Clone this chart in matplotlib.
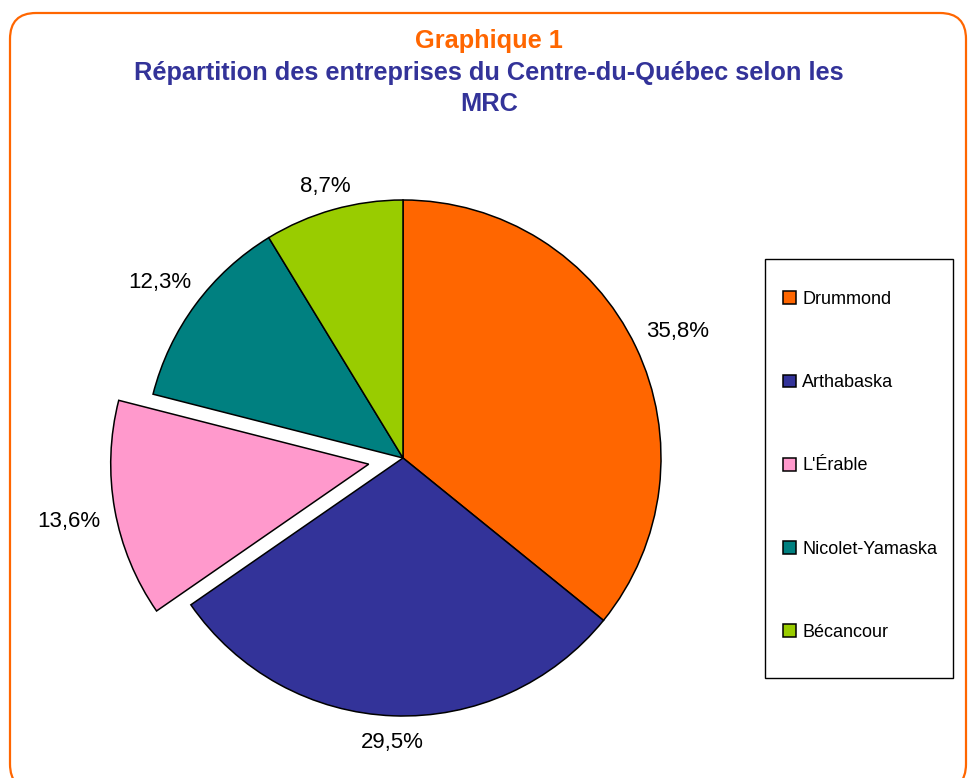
import matplotlib
matplotlib.use('Agg')
import matplotlib.pyplot as plt
from matplotlib.patches import FancyBboxPatch, Rectangle
import numpy as np

plt.rcParams['font.family'] = ['Liberation Sans', 'DejaVu Sans']

categories = ['Drummond', 'Arthabaska', "L'Érable", 'Nicolet-Yamaska', 'Bécancour']
shares = [35.8, 29.5, 13.6, 12.3, 8.7]
explode_flags = [0, 0, 1, 0, 0]
colors = ['#FF6600', '#333399', '#FF99CC', '#008080', '#99CC00']
title_1 = 'Graphique 1'
title_2 = 'Répartition des entreprises du Centre-du-Québec selon les'
title_3 = 'MRC'

W, H = 968, 778
fig = plt.figure(figsize=(W / 100, H / 100), dpi=100)
fig.patch.set_facecolor('white')

# background axes in pixel coordinates
bg = fig.add_axes([0, 0, 1, 1])
bg.set_xlim(0, W)
bg.set_ylim(H, 0)
bg.axis('off')

frame = FancyBboxPatch((10, 13), 956, 777, boxstyle='round,pad=0,rounding_size=26',
                       facecolor='white', edgecolor='#FF6600', linewidth=1.6)
bg.add_patch(frame)

bg.text(489, 41, title_1, ha='center', va='center', fontsize=18.3, fontweight='bold',
        color='#FF6600')
bg.text(489, 73, title_2, ha='center', va='center', fontsize=18.3, fontweight='bold',
        color='#333399')
bg.text(489, 104, title_3, ha='center', va='center', fontsize=18.3, fontweight='bold',
        color='#333399')

bg.add_patch(Rectangle((765, 259), 188, 419, facecolor='white', edgecolor='black',
                       linewidth=1.0))

# pie axes: center (403, 458) px, radius 258 px
R = 258
cx, cy = 403, 458
half = 1.25 * R
ax = fig.add_axes([(cx - half) / W, (H - cy - half) / H, 2 * half / W, 2 * half / H])
wedges, _ = ax.pie(shares, colors=colors, explode=[0.135 * f for f in explode_flags],
                   startangle=90, counterclock=False,
                   wedgeprops=dict(edgecolor='black', linewidth=1.1))
ax.set_xlim(-1.25, 1.25)
ax.set_ylim(-1.25, 1.25)
ax.set_aspect('equal')

labels = [f"{v:.1f}".replace('.', ',') + '%' for v in shares]
texts = []
for w, lab in zip(wedges, labels):
    t = ax.text(0, 0, lab, ha='center', va='center', fontsize=16, color='black')
    texts.append(t)

fig.canvas.draw()
renderer = fig.canvas.get_renderer()
gap = 14
for w, t in zip(wedges, texts):
    mid = np.deg2rad((w.theta1 + w.theta2) / 2)
    c, s = np.cos(mid), np.sin(mid)
    bb = t.get_window_extent(renderer)
    hw, hh = bb.width / 2, bb.height / 2 * 0.75
    d = (R + gap + abs(c) * hw + abs(s) * hh) / R
    x0, y0 = w.center
    t.set_position((x0 + d * c, y0 + d * s - 4 / R))

leg = fig.legend(wedges, categories, loc='center left',
                 bbox_to_anchor=(776 / W, 1 - 466 / H), borderaxespad=0,
                 frameon=False, fontsize=13, handlelength=0.7, handleheight=0.7,
                 handletextpad=0.35, labelspacing=3.67)

fig.savefig('out.png', dpi=100)
